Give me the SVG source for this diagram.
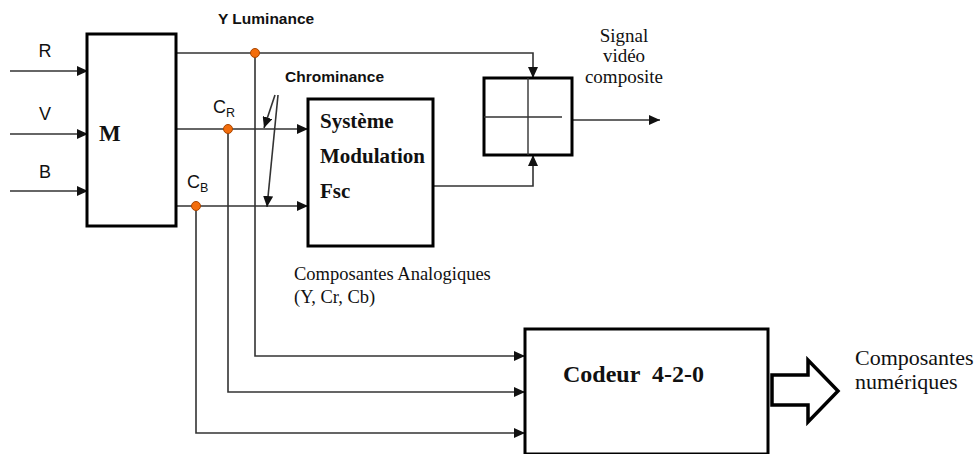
<svg xmlns="http://www.w3.org/2000/svg" width="976" height="454" viewBox="0 0 976 454">
<style>
.box{fill:#fff;stroke:#000;stroke-width:3}
.ln{fill:none;stroke:#333;stroke-width:1.6}
.ar{marker-end:url(#ah)}
.sans{font-family:"Liberation Sans",Arial,sans-serif;fill:#111}
.serif{font-family:"Liberation Serif","Times New Roman",serif;fill:#111}
.dot{fill:#f36d0c;stroke:#a84500;stroke-width:1}
</style>
<defs>
<marker id="ah" markerUnits="userSpaceOnUse" markerWidth="12" markerHeight="10" refX="11" refY="5" orient="auto">
<path d="M0,0 L11,5 L0,10 Z" fill="#111"/>
</marker>
</defs>
<g id="connectors">
<path class="ln ar" d="M10,71 H88"/>
<path class="ln ar" d="M10,134 H88"/>
<path class="ln ar" d="M10,191 H88"/>
<path class="ln ar" d="M176,53 H533 V78"/>
<path class="ln ar" d="M176,129 H308"/>
<path class="ln ar" d="M176,206 H308"/>
<path class="ln ar" d="M433,186 H533 V155"/>
<path class="ln ar" d="M572,120 H660"/>
<path class="ln ar" d="M255,53 V356 H525"/>
<path class="ln ar" d="M228,129 V392 H525"/>
<path class="ln ar" d="M196,206 V433 H525"/>
<path class="ln ar" d="M275,95 L264,128"/>
<path class="ln ar" d="M278,95 L267,207"/>
<path d="M772,375 H808 V360 L838,391 L808,422 V405 H772 Z" fill="#fff" stroke="#000" stroke-width="3.5" stroke-linejoin="miter"/>
</g>
<g id="dots">
<circle class="dot" cx="255" cy="53" r="4.5"/>
<circle class="dot" cx="228" cy="129" r="4.5"/>
<circle class="dot" cx="196" cy="206" r="4.5"/>
</g>
<g id="node-M">
<rect class="box" x="87" y="34" width="89" height="192"/>
<text class="serif" x="99" y="141" font-size="23" font-weight="bold">M</text>
</g>
<g id="node-systeme">
<rect class="box" x="308" y="99" width="125" height="147"/>
<text class="serif" x="320" y="128" font-size="21" font-weight="bold">Système</text>
<text class="serif" x="320" y="163" font-size="21" font-weight="bold">Modulation</text>
<text class="serif" x="320" y="198" font-size="21" font-weight="bold">Fsc</text>
</g>
<g id="node-adder">
<rect class="box" x="484" y="78" width="88" height="77"/>
<path d="M528,78 V155 M484,117 H562" fill="none" stroke="#333" stroke-width="1.4"/>
</g>
<g id="node-codeur">
<rect class="box" x="525" y="329" width="243" height="125"/>
<text class="serif" x="563" y="382" font-size="24" font-weight="bold" xml:space="preserve">Codeur  4-2-0</text>
</g>
<g id="labels">
<text class="sans" x="45" y="57" font-size="18" text-anchor="middle">R</text>
<text class="sans" x="45" y="120" font-size="18" text-anchor="middle">V</text>
<text class="sans" x="45" y="178" font-size="18" text-anchor="middle">B</text>
<text class="sans" x="218" y="24" font-size="15.5" font-weight="bold">Y Luminance</text>
<text class="sans" x="285" y="82" font-size="15.5" font-weight="bold">Chrominance</text>
<text class="sans" x="213" y="113" font-size="18">C<tspan font-size="12.5" dy="4">R</tspan></text>
<text class="sans" x="187" y="188" font-size="18">C<tspan font-size="12.5" dy="4">B</tspan></text>
<text class="serif" x="624" y="42" font-size="19" text-anchor="middle">Signal</text>
<text class="serif" x="624" y="62" font-size="19" text-anchor="middle">vidéo</text>
<text class="serif" x="624" y="83" font-size="19" text-anchor="middle">composite</text>
<text class="serif" x="294" y="280" font-size="18.5">Composantes Analogiques</text>
<text class="serif" x="294" y="303" font-size="18.5">(Y, Cr, Cb)</text>
<text class="serif" x="855" y="365" font-size="22">Composantes</text>
<text class="serif" x="855" y="389" font-size="22">numériques</text>
</g>
</svg>
